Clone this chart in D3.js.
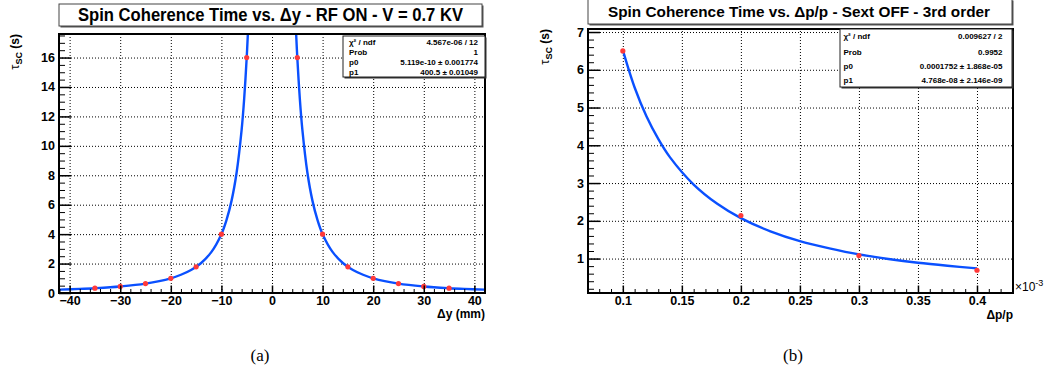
<!DOCTYPE html>
<meta charset="utf-8">
<head>
    <meta charset="utf-8">
    <title>Spin Coherence Time</title>
    <script src="https://d3js.org/d3.v7.min.js" charset="utf-8"></script>
    <style>
        html, body { margin: 0; padding: 0; background: #fff; }
        svg { display: block; font-family: "Liberation Sans", Arial, sans-serif; }
        .tick-lbl text { font-size: 12.5px; font-weight: bold; fill: #000; }
        .grid line { stroke: #000; stroke-width: 1; stroke-dasharray: 1,2; }
        .grid path { display: none; }
        .stats text { font-size: 8px; font-weight: bold; }
    </style>
</head>
<body>
<svg width="1045" height="373"></svg>
<script>

/****************************
 panel (a) data
****************************/
var aPointX = [-35, -30, -25, -20, -15, -10, -5, 5, 10, 15, 20, 25, 30, 35];
var aPointY = [0.33, 0.45, 0.64, 1.0, 1.78, 4.0, 16.0, 16.0, 4.0, 1.78, 1.0, 0.64, 0.45, 0.33];

// fit curve, two branches
var aFitLeftX  = [-42, -38, -35, -30, -25, -20, -18, -16, -14, -12, -10, -9, -8, -7, -6, -5.5, -5, -4.77];
var aFitLeftY  = [0.227, 0.277, 0.327, 0.445, 0.64, 1.0, 1.24, 1.56, 2.04, 2.78, 4.0, 4.95, 6.26, 8.17, 11.1, 13.2, 16.0, 17.6];
var aFitRightX = [4.77, 5, 5.5, 6, 7, 8, 9, 10, 12, 14, 16, 18, 20, 25, 30, 35, 38, 42];
var aFitRightY = [17.6, 16.0, 13.2, 11.1, 8.17, 6.26, 4.95, 4.0, 2.78, 2.04, 1.56, 1.24, 1.0, 0.64, 0.445, 0.327, 0.277, 0.227];

var aXTicks = [-40, -30, -20, -10, 0, 10, 20, 30, 40];
var aYTicks = [0, 2, 4, 6, 8, 10, 12, 14, 16];
var aTitle = "Spin Coherence Time vs. \u0394y - RF ON - V = 0.7 KV";
var aXLabel = "\u0394y (mm)";
var aStatsNames  = ["\u03c7\u00b2 / ndf", "Prob", "p0", "p1"];
var aStatsValues = ["4.567e-06 / 12", "1", "5.119e-10 \u00b1 0.001774", "400.5 \u00b1 0.01049"];

/****************************
 panel (b) data
****************************/
var bPointX = [0.1, 0.2, 0.3, 0.4];
var bPointY = [6.5, 2.14, 1.08, 0.69];

var bFitX = [0.1, 0.11, 0.12, 0.13, 0.14, 0.16, 0.18, 0.2, 0.225, 0.25, 0.275, 0.3, 0.325, 0.35, 0.375, 0.4];
var bFitY = [6.52, 5.53, 4.77, 4.17, 3.68, 2.96, 2.45, 2.07, 1.72, 1.46, 1.27, 1.11, 0.99, 0.89, 0.81, 0.74];

var bXTicks = [0.1, 0.15, 0.2, 0.25, 0.3, 0.35, 0.4];
var bYTicks = [1, 2, 3, 4, 5, 6, 7];
var bTitle = "Spin Coherence Time vs. \u0394p/p - Sext OFF - 3rd order";
var bXLabel = "\u0394p/p";
var bStatsNames  = ["\u03c7\u00b2 / ndf", "Prob", "p0", "p1"];
var bStatsValues = ["0.009627 / 2", "0.9952", "0.0001752 \u00b1 1.868e-05", "4.768e-08 \u00b1 2.146e-09"];

var svg = d3.select("svg");

function zip(xs, ys) { return xs.map((x, i) => [x, ys[i]]); }

function drawPanel(c) {
    var g = svg.append("g");
    var x = d3.scaleLinear().domain(c.xDomain).range([c.left, c.right]);
    var y = d3.scaleLinear().domain(c.yDomain).range([c.bottom, c.top]);
    var w = c.right - c.left, h = c.bottom - c.top;

    // grid
    g.append("g").attr("class", "grid")
        .attr("transform", "translate(0," + c.bottom + ")")
        .call(d3.axisBottom(x).tickValues(c.xTicks).tickSize(-h).tickFormat(""));
    g.append("g").attr("class", "grid")
        .attr("transform", "translate(" + c.left + ",0)")
        .call(d3.axisLeft(y).tickValues(c.yTicks).tickSize(-w).tickFormat(""));

    // clip
    var cid = "clip-" + c.id;
    g.append("clipPath").attr("id", cid).append("rect")
        .attr("x", c.left).attr("y", c.top).attr("width", w).attr("height", h);

    var line = d3.line().x(d => x(d[0])).y(d => y(d[1])).curve(d3.curveCatmullRom.alpha(0.5));
    c.fits.forEach(function (f) {
        g.append("path").datum(f)
            .attr("clip-path", "url(#" + cid + ")")
            .attr("fill", "none").attr("stroke", "#0a50ff").attr("stroke-width", 2.4)
            .attr("d", line);
    });

    g.selectAll(".pt").data(c.points).join("circle")
        .attr("cx", d => x(d[0])).attr("cy", d => y(d[1])).attr("r", 2.6)
        .attr("fill", "#ff3a3a");

    // minor ticks
    g.append("g").attr("transform", "translate(0," + c.bottom + ")")
        .call(d3.axisBottom(x).tickValues(c.xMinor).tickSizeInner(-4).tickSizeOuter(0).tickFormat(""))
        .call(s => s.select(".domain").remove());
    g.append("g").attr("transform", "translate(" + c.left + ",0)")
        .call(d3.axisLeft(y).tickValues(c.yMinor).tickSizeInner(-6).tickSizeOuter(0).tickFormat(""))
        .call(s => s.select(".domain").remove());

    // major ticks + labels
    g.append("g").attr("class", "tick-lbl").attr("transform", "translate(0," + c.bottom + ")")
        .call(d3.axisBottom(x).tickValues(c.xTicks).tickSizeInner(-7.5).tickSizeOuter(0).tickPadding(3).tickFormat(c.xFmt))
        .call(s => s.select(".domain").remove())
        .call(s => s.selectAll("line").attr("stroke-width", 1.5))
        .call(s => s.selectAll("text").attr("font-family", null).attr("font-size", null));
    g.append("g").attr("class", "tick-lbl").attr("transform", "translate(" + c.left + ",0)")
        .call(d3.axisLeft(y).tickValues(c.yTicks).tickSizeInner(-12).tickSizeOuter(0).tickPadding(4).tickFormat(d3.format("d")))
        .call(s => s.select(".domain").remove())
        .call(s => s.selectAll("line").attr("stroke-width", 1.5))
        .call(s => s.selectAll("text").attr("font-family", null).attr("font-size", null));

    // frame
    g.append("rect").attr("x", c.left).attr("y", c.top).attr("width", w).attr("height", h)
        .attr("fill", "none").attr("stroke", "#000").attr("stroke-width", 2);

    // title box
    g.append("rect").attr("x", c.tBox[0] + 1.5).attr("y", c.tBox[1] + 1.5)
        .attr("width", c.tBox[2] - c.tBox[0]).attr("height", c.tBox[3] - c.tBox[1])
        .attr("fill", "#555");
    g.append("rect").attr("x", c.tBox[0]).attr("y", c.tBox[1])
        .attr("width", c.tBox[2] - c.tBox[0]).attr("height", c.tBox[3] - c.tBox[1])
        .attr("fill", "#fff").attr("stroke", "#444").attr("stroke-width", 1);
    g.append("text").attr("x", c.tText[0]).attr("y", c.tBase)
        .attr("font-size", c.tSize).attr("font-weight", "bold")
        .attr("textLength", c.tText[1] - c.tText[0]).attr("lengthAdjust", "spacingAndGlyphs")
        .text(c.title);

    // stats box
    var st = g.append("g").attr("class", "stats");
    st.append("rect").attr("x", c.sBox[0] + 1.5).attr("y", c.sBox[1] + 1.5)
        .attr("width", c.sBox[2] - c.sBox[0]).attr("height", c.sBox[3] - c.sBox[1]).attr("fill", "#333");
    st.append("rect").attr("x", c.sBox[0]).attr("y", c.sBox[1])
        .attr("width", c.sBox[2] - c.sBox[0]).attr("height", c.sBox[3] - c.sBox[1])
        .attr("fill", "#fff").attr("stroke", "#222").attr("stroke-width", 1);
    c.sNames.forEach(function (n, i) {
        var yy = c.sRows[i] + c.sSize * 0.36;
        st.append("text").attr("x", c.sText[0]).attr("y", yy).attr("font-size", c.sSize).text(n);
        st.append("text").attr("x", c.sText[1]).attr("y", yy).attr("font-size", c.sSize)
            .attr("text-anchor", "end").text(c.sValues[i]);
    });

    // axis titles
    g.append("text").attr("x", c.right).attr("y", c.xLabY).attr("text-anchor", "end")
        .attr("font-size", 12).attr("font-weight", "bold").text(c.xLabel);
    var yl = g.append("text").attr("transform", "translate(" + c.yLabX + "," + c.top + ") rotate(-90)")
        .attr("text-anchor", "end").attr("font-size", 12).attr("font-weight", "bold");
    yl.append("tspan").attr("font-weight", "normal").attr("font-size", 13).text("\u03c4");
    yl.append("tspan").attr("font-size", 9).attr("dy", 3).text("SC");
    yl.append("tspan").attr("dy", -3).text(" (s)");

    if (c.exponent) {
        var ex = g.append("text").attr("x", c.right + 2).attr("y", c.bottom - 2).attr("font-size", 12);
        ex.append("tspan").text("\u00d710");
        ex.append("tspan").attr("font-size", 9).attr("dy", -5).text("-3");
    }

    svg.append("text").attr("x", c.caption[0]).attr("y", c.caption[1])
        .attr("text-anchor", "middle").attr("font-family", "Liberation Serif, serif")
        .attr("font-size", 17).text(c.captionText);
}

drawPanel({
    id: "a", left: 59, right: 485, top: 34, bottom: 293,
    xDomain: [-42.1, 42.1], yDomain: [0, 17.6],
    xTicks: aXTicks, yTicks: aYTicks,
    xMinor: d3.range(-42, 43, 2).filter(v => v % 10 !== 0),
    yMinor: d3.range(0, 17.6, 0.5).filter(v => v % 2 !== 0),
    xFmt: d3.format("d"),
    points: zip(aPointX, aPointY),
    fits: [zip(aFitLeftX, aFitLeftY), zip(aFitRightX, aFitRightY)],
    tBox: [59, 4, 482, 26], tText: [78, 463], tBase: 20.5, tSize: 17.5, title: aTitle,
    sBox: [343, 36, 485, 77], sText: [349, 478], sRows: [41.7, 51.7, 61.7, 71.7], sSize: 8.2,
    sNames: aStatsNames, sValues: aStatsValues,
    xLabel: aXLabel, xLabY: 318, yLabX: 19,
    caption: [260, 361], captionText: "(a)"
});

drawPanel({
    id: "b", left: 588, right: 1013, top: 29, bottom: 293,
    xDomain: [0.0705, 0.4305], yDomain: [0.088, 7.08],
    xTicks: bXTicks, yTicks: bYTicks,
    xMinor: d3.range(0.08, 0.431, 0.01).filter(v => Math.abs(v * 20 - Math.round(v * 20)) > 1e-6),
    yMinor: d3.range(0.2, 7.08, 0.2).filter(v => Math.abs(v - Math.round(v)) > 1e-6),
    xFmt: d => String(+d.toFixed(2)),
    points: zip(bPointX, bPointY),
    fits: [zip(bFitX, bFitY)],
    tBox: [588, -1, 1012, 24], tText: [608, 990], tBase: 16.7, tSize: 15.5, title: bTitle,
    sBox: [840, 29, 1012, 87], sText: [843.5, 1002.5], sRows: [35.5, 51.5, 65.7, 80], sSize: 9.5,
    sNames: bStatsNames, sValues: bStatsValues,
    xLabel: bXLabel, xLabY: 319, yLabX: 549,
    exponent: true,
    caption: [793, 361], captionText: "(b)"
});

</script>
</body>
</html>
